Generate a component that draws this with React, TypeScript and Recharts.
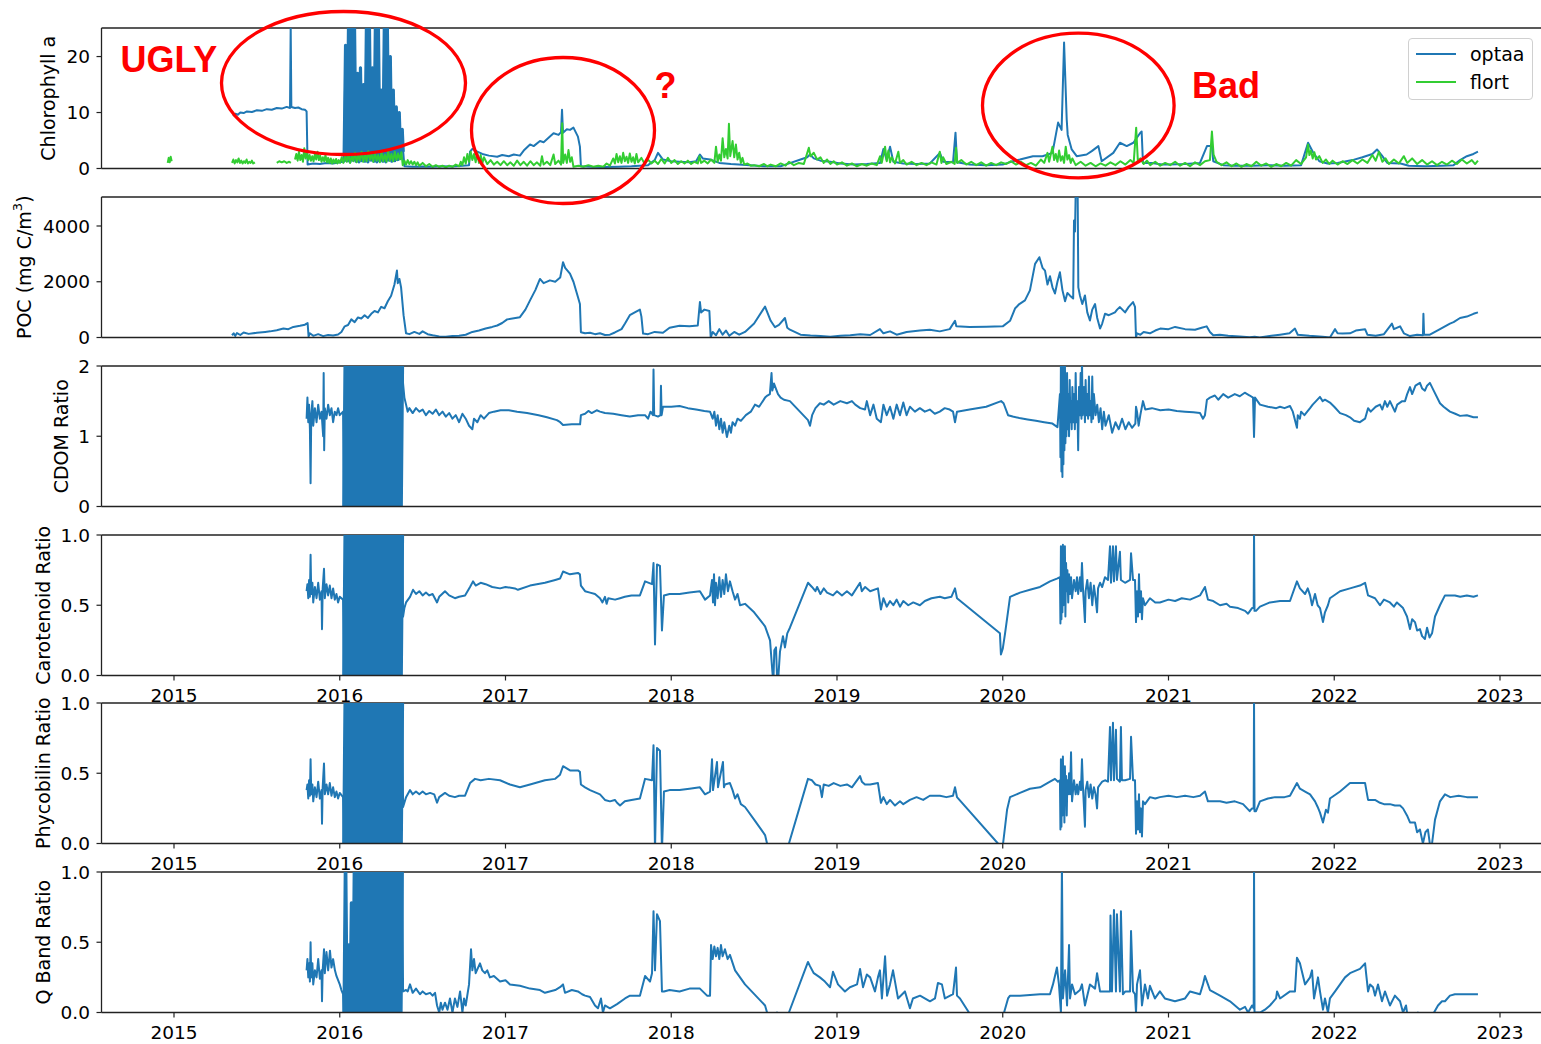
import React from "react";
import { LineChart, Line, XAxis, YAxis, Legend, ReferenceLine } from "recharts";

type Pt = [number, number | null];

const BLUE = "#1f77b4";
const GREEN = "#32cd32";
const RED = "#ff0000";
const FONT = "'DejaVu Sans', sans-serif";

// axis ticks
const yearTicks = [2015, 2016, 2017, 2018, 2019, 2020, 2021, 2022, 2023];
const chlTicks = [0, 10, 20];
const pocTicks = [0, 2000, 4000];
const cdomTicks = [0, 1, 2];
const ratioTicks = [0, 0.5, 1];
const legendOrder = ["optaa", "flort"];

// ---- Chlorophyll a ----
const chlBlock: Pt[] = [
  [2016.026, 1.2], [2016.035, 22], [2016.044, 1.4], [2016.053, 26], [2016.062, 1.2], [2016.071, 26],
  [2016.08, 1.5], [2016.089, 26], [2016.098, 1.3], [2016.107, 17], [2016.116, 1.2], [2016.125, 18],
  [2016.134, 1.4], [2016.143, 15], [2016.152, 1.3], [2016.161, 26], [2016.17, 1.2], [2016.179, 26],
  [2016.188, 1.5], [2016.197, 18], [2016.206, 1.3], [2016.215, 26], [2016.224, 1.2], [2016.233, 26],
  [2016.242, 1.4], [2016.251, 14], [2016.26, 1.3], [2016.269, 26], [2016.278, 1.2], [2016.287, 26],
  [2016.296, 1.5], [2016.305, 20], [2016.314, 1.3], [2016.323, 14], [2016.332, 1.4], [2016.341, 11],
  [2016.35, 1.6], [2016.359, 10], [2016.368, 1.8], [2016.377, 7], [2016.383, 3],
];

const chlOptaa: Pt[] = [
  [2015.356, 9.4], [2015.37, 9.8], [2015.385, 9.6], [2015.4, 10.0], [2015.42, 9.9], [2015.44, 10.2],
  [2015.47, 10.1], [2015.5, 10.4], [2015.53, 10.3], [2015.56, 10.6], [2015.59, 10.5], [2015.62, 10.8],
  [2015.65, 10.7], [2015.68, 11.0], [2015.7, 10.8], [2015.704, 25.5], [2015.708, 11.0], [2015.73, 10.8],
  [2015.75, 10.9], [2015.77, 10.6], [2015.79, 10.5], [2015.8, 10.2], [2015.806, 0.7],
  [2015.84, 0.9], [2015.88, 0.8], [2015.92, 1.0], [2015.96, 0.9], [2016.0, 1.1], [2016.02, 1.2],
  ...chlBlock,
  [2016.39, 0.4], [2016.44, 0.3], [2016.5, 0.35], [2016.56, 0.3], [2016.62, 0.4], [2016.68, 0.35],
  [2016.74, 0.5], [2016.78, 0.6], [2016.786, 3.0], [2016.8, 3.5], [2016.83, 3.0], [2016.86, 2.6],
  [2016.9, 2.3], [2016.95, 2.1], [2016.98, 2.4], [2017.02, 2.2], [2017.05, 2.5], [2017.087, 2.3],
  [2017.11, 3.2], [2017.148, 4.3], [2017.17, 4.0], [2017.208, 4.9], [2017.23, 4.7], [2017.268, 5.7],
  [2017.29, 6.3], [2017.32, 6.0], [2017.335, 6.5], [2017.341, 10.5], [2017.347, 6.4], [2017.37, 7.0],
  [2017.389, 6.9], [2017.41, 7.3], [2017.437, 5.7], [2017.449, 3.9], [2017.455, 0.4],
  [2017.52, 0.3], [2017.6, 0.25], [2017.68, 0.3], [2017.76, 0.4], [2017.86, 0.6], [2017.9, 1.5],
  [2017.92, 2.8], [2017.95, 1.6], [2018.0, 1.3], [2018.05, 1.2], [2018.11, 1.1], [2018.15, 1.3],
  [2018.173, 2.5], [2018.19, 1.8], [2018.234, 1.6], [2018.29, 1.0], [2018.36, 0.8], [2018.475, 0.6],
  [2018.56, 0.4], [2018.66, 0.4], [2018.72, 1.0], [2018.78, 1.6], [2018.82, 2.0], [2018.837, 2.5],
  [2018.86, 1.8], [2018.9, 1.4], [2018.96, 1.2], [2019.02, 0.9], [2019.1, 0.7], [2019.18, 0.8],
  [2019.26, 1.0], [2019.28, 3.5], [2019.3, 1.5], [2019.32, 3.9], [2019.34, 1.2], [2019.4, 0.9],
  [2019.48, 0.8], [2019.56, 0.9], [2019.621, 2.8], [2019.64, 1.2], [2019.7, 1.1], [2019.715, 6.4],
  [2019.724, 1.1], [2019.8, 0.7], [2019.9, 0.6], [2020.0, 0.7], [2020.06, 1.3], [2020.104, 1.6],
  [2020.182, 2.2], [2020.24, 2.2], [2020.3, 2.8], [2020.334, 8.2], [2020.355, 6.9], [2020.37, 22.5],
  [2020.386, 8.7], [2020.392, 6.0], [2020.416, 3.4], [2020.446, 2.2], [2020.506, 2.5], [2020.537, 3.1],
  [2020.577, 4.0], [2020.597, 1.3], [2020.667, 2.8], [2020.707, 4.6], [2020.748, 4.0], [2020.788, 4.6],
  [2020.828, 6.3], [2020.838, 6.6], [2020.846, 1.0], [2020.9, 1.0], [2020.96, 0.7], [2021.0, 0.7],
  [2021.1, 0.8], [2021.19, 1.0], [2021.232, 4.0], [2021.262, 4.0], [2021.27, 1.3], [2021.33, 0.6],
  [2021.4, 0.5], [2021.5, 0.5], [2021.6, 0.6], [2021.7, 0.5], [2021.8, 0.6], [2021.842, 4.6],
  [2021.872, 2.9], [2021.91, 1.3], [2021.96, 0.9], [2022.02, 1.0], [2022.11, 1.5], [2022.17, 2.0],
  [2022.23, 2.6], [2022.258, 3.4], [2022.288, 2.3], [2022.32, 1.0], [2022.4, 0.9], [2022.45, 0.5],
  [2022.55, 0.4], [2022.65, 0.5], [2022.72, 0.6], [2022.759, 1.5], [2022.8, 2.2], [2022.84, 2.6],
  [2022.867, 3.0],
];

const chlFlort: Pt[] = [
  [2014.962, 1.0], [2014.968, 1.9], [2014.974, 1.1], [2014.98, 2.1], [2014.986, 1.3], [2014.99, null],
  [2015.35, 1.0], [2015.358, 1.6], [2015.366, 0.9], [2015.374, 1.5], [2015.382, 1.1], [2015.39, 1.8],
  [2015.398, 1.0], [2015.406, 1.4], [2015.414, 0.9], [2015.422, 1.3], [2015.43, 1.0], [2015.438, 1.6],
  [2015.446, 0.9], [2015.454, 1.2], [2015.462, 1.0], [2015.47, 1.4], [2015.478, 0.9], [2015.488, 1.1],
  [2015.49, null],
  [2015.62, 1.0], [2015.635, 1.3], [2015.65, 1.1], [2015.665, 1.3], [2015.68, 1.0], [2015.695, 1.2],
  [2015.705, 1.0], [2015.71, null],
  [2015.73, 1.6], [2015.738, 2.6], [2015.746, 1.4], [2015.754, 3.0], [2015.762, 1.5], [2015.77, 2.4],
  [2015.778, 1.2], [2015.786, 3.6], [2015.794, 1.8], [2015.802, 2.8], [2015.81, 1.5], [2015.818, 2.4],
  [2015.826, 1.4], [2015.834, 2.2], [2015.842, 1.3], [2015.85, 2.6], [2015.858, 1.6], [2015.866, 3.0],
  [2015.874, 1.5], [2015.882, 2.3], [2015.89, 1.2], [2015.898, 2.0], [2015.906, 1.3], [2015.914, 2.4],
  [2015.922, 1.1], [2015.93, 1.9], [2015.938, 1.0], [2015.946, 1.8], [2015.954, 0.9], [2015.962, 1.6],
  [2015.97, 1.0], [2015.978, 1.7], [2015.986, 0.9], [2015.994, 1.5], [2016.002, 1.0], [2016.012, 2.0],
  [2016.022, 1.0], [2016.032, 2.3], [2016.042, 1.2], [2016.052, 2.6], [2016.062, 1.0], [2016.072, 2.2],
  [2016.082, 1.3], [2016.092, 2.8], [2016.102, 1.1], [2016.112, 2.4], [2016.122, 1.4], [2016.132, 3.0],
  [2016.142, 1.2], [2016.152, 2.5], [2016.162, 1.3], [2016.172, 3.1], [2016.182, 1.5], [2016.192, 2.6],
  [2016.202, 1.2], [2016.212, 2.8], [2016.222, 1.4], [2016.232, 2.4], [2016.242, 1.1], [2016.252, 2.9],
  [2016.262, 1.3], [2016.272, 2.5], [2016.282, 1.2], [2016.292, 3.2], [2016.302, 1.4], [2016.312, 2.6],
  [2016.322, 1.3], [2016.332, 3.0], [2016.342, 1.5], [2016.352, 2.7], [2016.362, 1.6], [2016.372, 2.9],
  [2016.38, 0.6], [2016.39, 1.4], [2016.4, 0.7], [2016.41, 1.5], [2016.42, 0.8], [2016.43, 1.3],
  [2016.44, 0.7], [2016.45, 1.2], [2016.46, 0.6], [2016.47, 1.1], [2016.48, 0.5], [2016.5, 1.0],
  [2016.52, 0.4], [2016.54, 0.8], [2016.56, 0.3], [2016.58, 0.6], [2016.6, 0.3], [2016.62, 0.5],
  [2016.64, 0.2], [2016.66, 0.5], [2016.68, 0.3], [2016.7, 0.7], [2016.72, 0.4], [2016.73, 1.2],
  [2016.74, 0.6], [2016.75, 2.0], [2016.76, 0.9], [2016.77, 2.6], [2016.78, 1.2], [2016.79, 3.0],
  [2016.8, 1.5], [2016.81, 2.6], [2016.82, 1.1], [2016.83, 2.8], [2016.84, 1.0], [2016.85, 2.4],
  [2016.86, 0.9], [2016.87, 2.0], [2016.89, 0.8], [2016.91, 1.5], [2016.93, 0.7], [2016.95, 1.2],
  [2016.97, 0.6], [2016.99, 1.3], [2017.01, 0.6], [2017.03, 1.1], [2017.05, 0.5], [2017.07, 1.4],
  [2017.09, 0.6], [2017.11, 1.2], [2017.13, 0.5], [2017.15, 1.3], [2017.17, 0.6], [2017.19, 1.1],
  [2017.21, 0.5], [2017.22, 2.2], [2017.23, 0.7], [2017.25, 1.2], [2017.27, 0.6], [2017.29, 2.5],
  [2017.3, 0.8], [2017.32, 1.4], [2017.335, 0.7], [2017.342, 8.1], [2017.348, 1.0], [2017.36, 2.5],
  [2017.37, 1.0], [2017.38, 3.3], [2017.39, 1.2], [2017.4, 2.0], [2017.41, 0.3], [2017.44, 0.5],
  [2017.47, 0.3], [2017.5, 0.6], [2017.53, 0.3], [2017.56, 0.5], [2017.59, 0.3], [2017.61, 0.9],
  [2017.63, 0.5], [2017.65, 1.8], [2017.66, 0.9], [2017.67, 2.6], [2017.68, 1.1], [2017.69, 2.2],
  [2017.7, 1.0], [2017.71, 2.8], [2017.72, 1.3], [2017.73, 2.1], [2017.74, 1.0], [2017.75, 2.7],
  [2017.76, 1.2], [2017.77, 2.0], [2017.78, 0.9], [2017.79, 2.6], [2017.8, 1.1], [2017.82, 1.9],
  [2017.84, 0.8], [2017.86, 1.6], [2017.88, 0.9], [2017.9, 1.4], [2017.92, 0.8], [2017.94, 1.7],
  [2017.96, 0.9], [2017.98, 1.9], [2018.0, 1.0], [2018.02, 1.5], [2018.04, 0.8], [2018.06, 1.3],
  [2018.08, 0.9], [2018.1, 1.4], [2018.12, 0.8], [2018.14, 1.2], [2018.16, 0.9], [2018.17, 2.2],
  [2018.18, 1.0], [2018.2, 1.4], [2018.22, 0.9], [2018.24, 1.6], [2018.26, 1.0], [2018.27, 3.9],
  [2018.28, 1.2], [2018.29, 2.5], [2018.3, 1.4], [2018.31, 5.4], [2018.32, 2.0], [2018.33, 3.5],
  [2018.34, 1.8], [2018.348, 8.0], [2018.356, 2.2], [2018.37, 4.9], [2018.38, 2.0], [2018.39, 4.3],
  [2018.4, 1.6], [2018.41, 2.8], [2018.42, 1.0], [2018.43, 1.9], [2018.44, 0.7], [2018.46, 0.9],
  [2018.48, 0.5], [2018.5, 0.6], [2018.53, 0.4], [2018.56, 0.8], [2018.58, 0.4], [2018.6, 0.7],
  [2018.63, 0.4], [2018.66, 0.9], [2018.69, 0.5], [2018.71, 1.2], [2018.74, 0.6], [2018.77, 1.0],
  [2018.8, 0.8], [2018.83, 3.7], [2018.84, 2.2], [2018.86, 2.8], [2018.88, 1.6], [2018.9, 2.0],
  [2018.92, 1.0], [2018.94, 1.6], [2018.96, 0.8], [2018.98, 1.3], [2019.0, 0.7], [2019.03, 1.1],
  [2019.06, 0.5], [2019.09, 0.9], [2019.12, 0.4], [2019.15, 0.8], [2019.18, 0.5], [2019.21, 0.9],
  [2019.24, 0.6], [2019.26, 2.2], [2019.27, 1.0], [2019.29, 3.9], [2019.3, 1.3], [2019.31, 3.2],
  [2019.32, 1.1], [2019.33, 2.0], [2019.35, 0.9], [2019.37, 3.0], [2019.38, 1.0], [2019.4, 1.5],
  [2019.42, 0.7], [2019.45, 1.2], [2019.48, 0.6], [2019.51, 1.0], [2019.54, 0.6], [2019.57, 1.1],
  [2019.6, 0.7], [2019.62, 3.0], [2019.63, 1.0], [2019.64, 2.0], [2019.66, 0.8], [2019.69, 1.2],
  [2019.71, 0.8], [2019.718, 3.7], [2019.726, 1.0], [2019.75, 1.5], [2019.78, 0.7], [2019.81, 1.2],
  [2019.84, 0.6], [2019.87, 1.1], [2019.9, 0.5], [2019.93, 1.0], [2019.96, 0.6], [2019.99, 1.1],
  [2020.02, 0.8], [2020.05, 1.3], [2020.08, 0.7], [2020.11, 1.2], [2020.14, 0.6], [2020.17, 1.0],
  [2020.2, 0.5], [2020.23, 1.6], [2020.25, 1.0], [2020.27, 2.8], [2020.28, 1.2], [2020.3, 3.9],
  [2020.31, 1.5], [2020.32, 2.6], [2020.33, 1.2], [2020.34, 3.2], [2020.35, 1.4], [2020.36, 2.2],
  [2020.37, 1.0], [2020.38, 3.9], [2020.39, 1.6], [2020.4, 2.4], [2020.41, 1.0], [2020.42, 1.8],
  [2020.44, 0.6], [2020.47, 1.2], [2020.5, 0.5], [2020.53, 1.0], [2020.56, 0.4], [2020.59, 0.9],
  [2020.62, 0.5], [2020.65, 1.1], [2020.68, 0.6], [2020.71, 1.3], [2020.74, 0.7], [2020.77, 1.5],
  [2020.79, 1.0], [2020.805, 7.3], [2020.815, 1.4], [2020.83, 1.8], [2020.85, 0.8], [2020.87, 1.4],
  [2020.89, 0.6], [2020.92, 1.2], [2020.95, 0.5], [2020.98, 1.0], [2021.01, 0.6], [2021.04, 1.2],
  [2021.07, 0.5], [2021.1, 1.0], [2021.13, 0.4], [2021.16, 1.1], [2021.19, 0.6], [2021.22, 1.3],
  [2021.25, 1.5], [2021.262, 6.6], [2021.272, 2.5], [2021.29, 1.2], [2021.32, 0.6], [2021.35, 1.1],
  [2021.38, 0.4], [2021.41, 0.9], [2021.44, 0.3], [2021.47, 0.8], [2021.5, 0.4], [2021.53, 1.2],
  [2021.56, 0.5], [2021.59, 0.9], [2021.62, 0.3], [2021.65, 0.8], [2021.68, 0.4], [2021.71, 1.0],
  [2021.74, 0.5], [2021.77, 1.5], [2021.8, 0.8], [2021.83, 2.0], [2021.842, 4.3], [2021.85, 2.4],
  [2021.86, 3.2], [2021.87, 1.8], [2021.88, 2.9], [2021.89, 1.6], [2021.91, 2.2], [2021.93, 1.0],
  [2021.95, 1.6], [2021.97, 0.8], [2021.99, 1.4], [2022.02, 0.7], [2022.05, 1.3], [2022.08, 0.8],
  [2022.11, 1.5], [2022.14, 0.9], [2022.17, 1.6], [2022.2, 1.0], [2022.23, 2.4], [2022.25, 1.4],
  [2022.27, 3.0], [2022.29, 1.2], [2022.31, 1.8], [2022.33, 0.8], [2022.36, 1.6], [2022.39, 0.9],
  [2022.42, 2.2], [2022.44, 1.0], [2022.47, 1.8], [2022.5, 0.8], [2022.53, 1.5], [2022.56, 0.7],
  [2022.59, 1.3], [2022.62, 0.6], [2022.65, 1.2], [2022.68, 0.7], [2022.71, 1.4], [2022.74, 0.8],
  [2022.77, 1.6], [2022.8, 0.9], [2022.83, 1.5], [2022.85, 0.8], [2022.867, 1.4],
];

// ---- POC ----
const poc: Pt[] = [
  [2015.35, 80], [2015.36, 150], [2015.37, 60], [2015.38, 160], [2015.4, 90], [2015.42, 180],
  [2015.45, 130], [2015.5, 170], [2015.55, 200], [2015.58, 220], [2015.62, 260], [2015.66, 320],
  [2015.69, 300], [2015.72, 380], [2015.76, 420], [2015.79, 460], [2015.8, 500], [2015.806, 520],
  [2015.812, 40], [2015.82, 150], [2015.84, 60], [2015.87, 120], [2015.9, 50], [2015.93, 90],
  [2015.96, 70], [2015.99, 110], [2016.01, 200], [2016.03, 400], [2016.05, 450], [2016.07, 650],
  [2016.09, 550], [2016.11, 720], [2016.13, 680], [2016.15, 800], [2016.17, 700], [2016.19, 850],
  [2016.21, 950], [2016.23, 900], [2016.25, 1100], [2016.27, 1050], [2016.29, 1300], [2016.31, 1500],
  [2016.33, 1900], [2016.345, 2400], [2016.35, 1950], [2016.36, 2100], [2016.37, 1800], [2016.385, 800],
  [2016.4, 150], [2016.42, 120], [2016.45, 200], [2016.48, 130], [2016.5, 220], [2016.53, 120],
  [2016.56, 80], [2016.6, 40], [2016.64, 30], [2016.68, 50], [2016.72, 60], [2016.76, 100],
  [2016.8, 200], [2016.84, 250], [2016.88, 320], [2016.92, 380], [2016.95, 430], [2016.98, 520],
  [2017.01, 650], [2017.06, 700], [2017.087, 730], [2017.12, 1000], [2017.148, 1330], [2017.18, 1700],
  [2017.208, 2100], [2017.23, 1950], [2017.268, 2050], [2017.3, 2000], [2017.33, 2150], [2017.347, 2700],
  [2017.36, 2500], [2017.389, 2290], [2017.41, 2000], [2017.437, 1450], [2017.449, 1200], [2017.455, 190],
  [2017.48, 150], [2017.51, 170], [2017.54, 120], [2017.57, 150], [2017.6, 90], [2017.63, 100],
  [2017.66, 180], [2017.7, 300], [2017.721, 500], [2017.75, 800], [2017.78, 900], [2017.811, 1000],
  [2017.82, 750], [2017.83, 140], [2017.86, 120], [2017.9, 200], [2017.95, 170], [2017.99, 350],
  [2018.05, 420], [2018.11, 400], [2018.16, 430], [2018.173, 1270], [2018.18, 900], [2018.2, 1000],
  [2018.23, 950], [2018.238, 0], [2018.25, 200], [2018.27, 80], [2018.29, 300], [2018.31, 100],
  [2018.33, 250], [2018.35, 60], [2018.38, 200], [2018.41, 100], [2018.445, 200], [2018.5, 500],
  [2018.566, 1110], [2018.6, 600], [2018.626, 370], [2018.65, 450], [2018.686, 700], [2018.7, 350],
  [2018.716, 280], [2018.78, 100], [2018.84, 70], [2018.9, 50], [2018.96, 30], [2019.02, 60],
  [2019.08, 80], [2019.14, 120], [2019.2, 90], [2019.259, 300], [2019.28, 150], [2019.32, 220],
  [2019.36, 100], [2019.42, 200], [2019.5, 250], [2019.56, 280], [2019.62, 220], [2019.68, 300],
  [2019.712, 600], [2019.72, 400], [2019.8, 380], [2019.9, 390], [2020.0, 400], [2020.044, 600],
  [2020.074, 1040], [2020.1, 1200], [2020.134, 1330], [2020.164, 1690], [2020.195, 2640], [2020.221, 2880],
  [2020.24, 2500], [2020.255, 2400], [2020.27, 1900], [2020.285, 2200], [2020.3, 1800], [2020.315, 1580],
  [2020.33, 2000], [2020.345, 2340], [2020.36, 1700], [2020.376, 1300], [2020.39, 1600], [2020.406, 1500],
  [2020.425, 1400], [2020.43, 4200], [2020.436, 3800], [2020.44, 5200], [2020.452, 5200], [2020.456, 1800],
  [2020.466, 1500], [2020.48, 1200], [2020.496, 1510], [2020.51, 900], [2020.526, 610], [2020.54, 1000],
  [2020.557, 1200], [2020.57, 700], [2020.587, 320], [2020.6, 500], [2020.617, 850], [2020.64, 800],
  [2020.677, 900], [2020.69, 1000], [2020.707, 1090], [2020.738, 900], [2020.76, 1100], [2020.786, 1270],
  [2020.798, 1100], [2020.804, 0], [2020.81, 150], [2020.83, 100], [2020.85, 200], [2020.888, 150],
  [2020.92, 250], [2020.95, 320], [2021.0, 300], [2021.04, 380], [2021.1, 300], [2021.16, 280],
  [2021.2, 350], [2021.23, 400], [2021.25, 200], [2021.27, 80], [2021.31, 100], [2021.36, 60],
  [2021.43, 40], [2021.49, 10], [2021.52, 30], [2021.55, 0], [2021.62, 60], [2021.673, 100],
  [2021.73, 150], [2021.763, 320], [2021.78, 100], [2021.85, 60], [2021.93, 30], [2021.974, 0],
  [2022.005, 300], [2022.02, 150], [2022.05, 140], [2022.095, 150], [2022.13, 250], [2022.186, 300],
  [2022.2, 100], [2022.25, 60], [2022.3, 120], [2022.348, 500], [2022.36, 300], [2022.397, 400],
  [2022.42, 150], [2022.457, 50], [2022.5, 100], [2022.535, 80], [2022.538, 850], [2022.542, 100],
  [2022.577, 100], [2022.638, 300], [2022.698, 500], [2022.72, 550], [2022.759, 700], [2022.8, 750],
  [2022.84, 850], [2022.867, 900],
];

// ---- solid bursts in the ratio panels (2016) ----
const cdomBlock: Pt[] = [
  [2016.026, -0.2], [2016.035, 2.2], [2016.044, -0.2], [2016.053, 2.2], [2016.062, -0.2], [2016.071, 2.2],
  [2016.08, -0.2], [2016.089, 2.2], [2016.098, -0.2], [2016.107, 2.2], [2016.116, -0.2], [2016.125, 2.2],
  [2016.134, -0.2], [2016.143, 2.2], [2016.152, -0.2], [2016.161, 2.2], [2016.17, -0.2], [2016.179, 2.2],
  [2016.188, -0.2], [2016.197, 2.2], [2016.206, -0.2], [2016.215, 2.2], [2016.224, -0.2], [2016.233, 2.2],
  [2016.242, -0.2], [2016.251, 2.2], [2016.26, -0.2], [2016.269, 2.2], [2016.278, -0.2], [2016.287, 2.2],
  [2016.296, -0.2], [2016.305, 2.2], [2016.314, -0.2], [2016.323, 2.2], [2016.332, -0.2], [2016.341, 2.2],
  [2016.35, -0.2], [2016.359, 2.2], [2016.368, -0.2], [2016.377, 2.2],
];

const ratioBlock: Pt[] = [
  [2016.026, -0.1], [2016.035, 1.1], [2016.044, -0.1], [2016.053, 1.1], [2016.062, -0.1], [2016.071, 1.1],
  [2016.08, -0.1], [2016.089, 1.1], [2016.098, -0.1], [2016.107, 1.1], [2016.116, -0.1], [2016.125, 1.1],
  [2016.134, -0.1], [2016.143, 1.1], [2016.152, -0.1], [2016.161, 1.1], [2016.17, -0.1], [2016.179, 1.1],
  [2016.188, -0.1], [2016.197, 1.1], [2016.206, -0.1], [2016.215, 1.1], [2016.224, -0.1], [2016.233, 1.1],
  [2016.242, -0.1], [2016.251, 1.1], [2016.26, -0.1], [2016.269, 1.1], [2016.278, -0.1], [2016.287, 1.1],
  [2016.296, -0.1], [2016.305, 1.1], [2016.314, -0.1], [2016.323, 1.1], [2016.332, -0.1], [2016.341, 1.1],
  [2016.35, -0.1], [2016.359, 1.1], [2016.368, -0.1], [2016.377, 1.1],
];

const qBlock: Pt[] = [
  [2016.026, -0.1], [2016.035, 1.1], [2016.044, -0.1], [2016.053, 0.48], [2016.062, -0.1], [2016.071, 0.78],
  [2016.08, -0.1], [2016.089, 1.1], [2016.098, -0.1], [2016.107, 1.1], [2016.116, -0.1], [2016.125, 1.1],
  [2016.134, -0.1], [2016.143, 1.1], [2016.152, -0.1], [2016.161, 1.1], [2016.17, -0.1], [2016.179, 1.1],
  [2016.188, -0.1], [2016.197, 1.1], [2016.206, -0.1], [2016.215, 1.1], [2016.224, -0.1], [2016.233, 1.1],
  [2016.242, -0.1], [2016.251, 1.1], [2016.26, -0.1], [2016.269, 1.1], [2016.278, -0.1], [2016.287, 1.1],
  [2016.296, -0.1], [2016.305, 1.1], [2016.314, -0.1], [2016.323, 1.1], [2016.332, -0.1], [2016.341, 1.1],
  [2016.35, -0.1], [2016.359, 1.1], [2016.368, -0.1], [2016.377, 1.1],
];

// ---- CDOM ratio ----
const cdom: Pt[] = [
  [2015.8, 1.25], [2015.805, 1.55], [2015.81, 1.2], [2015.815, 1.45], [2015.82, 1.1], [2015.824, 0.33],
  [2015.828, 1.3], [2015.835, 1.5], [2015.84, 1.15], [2015.85, 1.4], [2015.86, 1.2], [2015.87, 1.45],
  [2015.88, 1.25], [2015.89, 1.35], [2015.9, 1.0], [2015.903, 1.9], [2015.906, 0.8], [2015.91, 1.4],
  [2015.92, 1.25], [2015.93, 1.45], [2015.94, 1.3], [2015.95, 1.4], [2015.96, 1.2], [2015.97, 1.35],
  [2015.98, 1.3], [2015.99, 1.4], [2016.0, 1.3], [2016.02, 1.35],
  ...cdomBlock,
  [2016.382, 1.75], [2016.39, 1.55], [2016.4, 1.45], [2016.41, 1.35], [2016.42, 1.4], [2016.44, 1.33],
  [2016.46, 1.4], [2016.48, 1.35], [2016.5, 1.38], [2016.52, 1.3], [2016.54, 1.36], [2016.56, 1.32],
  [2016.58, 1.38], [2016.6, 1.3], [2016.62, 1.35], [2016.64, 1.28], [2016.66, 1.33], [2016.68, 1.25],
  [2016.7, 1.3], [2016.72, 1.2], [2016.74, 1.32], [2016.76, 1.25], [2016.78, 1.15], [2016.8, 1.1],
  [2016.81, 1.25], [2016.83, 1.2], [2016.85, 1.3], [2016.87, 1.25], [2016.9, 1.33], [2016.93, 1.35],
  [2016.97, 1.37], [2017.02, 1.37], [2017.07, 1.35], [2017.13, 1.33], [2017.2, 1.3], [2017.25, 1.27],
  [2017.31, 1.23], [2017.33, 1.2], [2017.347, 1.16], [2017.4, 1.17], [2017.45, 1.17], [2017.455, 1.3],
  [2017.48, 1.32], [2017.5, 1.36], [2017.52, 1.33], [2017.55, 1.37], [2017.57, 1.35], [2017.6, 1.33],
  [2017.65, 1.32], [2017.7, 1.3], [2017.75, 1.28], [2017.8, 1.3], [2017.842, 1.3], [2017.86, 1.25],
  [2017.875, 1.35], [2017.89, 1.3], [2017.893, 1.95], [2017.897, 1.3], [2017.92, 1.28], [2017.935, 1.3],
  [2017.938, 1.72], [2017.942, 1.3], [2017.95, 1.42], [2018.0, 1.42], [2018.05, 1.43], [2018.1, 1.4],
  [2018.15, 1.38], [2018.2, 1.36], [2018.234, 1.35], [2018.25, 1.25], [2018.26, 1.35], [2018.27, 1.15],
  [2018.28, 1.3], [2018.29, 1.1], [2018.3, 1.25], [2018.31, 1.05], [2018.32, 1.2], [2018.336, 0.99],
  [2018.35, 1.15], [2018.36, 1.05], [2018.37, 1.2], [2018.385, 1.15], [2018.4, 1.25], [2018.42, 1.22],
  [2018.45, 1.3], [2018.48, 1.35], [2018.505, 1.45], [2018.53, 1.42], [2018.566, 1.55], [2018.58, 1.58],
  [2018.595, 1.6], [2018.605, 1.9], [2018.61, 1.65], [2018.62, 1.75], [2018.644, 1.6], [2018.66, 1.55],
  [2018.68, 1.52], [2018.716, 1.5], [2018.825, 1.23], [2018.837, 1.15], [2018.85, 1.3], [2018.87, 1.4],
  [2018.897, 1.47], [2018.92, 1.45], [2018.95, 1.5], [2018.98, 1.45], [2019.02, 1.5], [2019.06, 1.47],
  [2019.09, 1.5], [2019.11, 1.45], [2019.14, 1.4], [2019.169, 1.38], [2019.18, 1.5], [2019.2, 1.3],
  [2019.22, 1.45], [2019.24, 1.25], [2019.265, 1.2], [2019.28, 1.45], [2019.3, 1.3], [2019.32, 1.42],
  [2019.34, 1.25], [2019.36, 1.45], [2019.38, 1.3], [2019.4, 1.48], [2019.42, 1.3], [2019.44, 1.42],
  [2019.47, 1.35], [2019.5, 1.4], [2019.53, 1.35], [2019.56, 1.38], [2019.59, 1.32], [2019.62, 1.35],
  [2019.65, 1.4], [2019.68, 1.38], [2019.7, 1.35], [2019.712, 1.2], [2019.724, 1.35], [2019.8, 1.38],
  [2019.9, 1.42], [2019.99, 1.5], [2020.005, 1.47], [2020.032, 1.3], [2020.06, 1.28], [2020.1, 1.26],
  [2020.15, 1.24], [2020.2, 1.22], [2020.25, 1.2], [2020.3, 1.18], [2020.33, 1.13], [2020.345, 1.6],
  [2020.348, 0.7], [2020.351, 2.1], [2020.354, 0.5], [2020.357, 1.9], [2020.36, 0.42], [2020.363, 2.1],
  [2020.366, 0.6], [2020.369, 1.8], [2020.372, 0.8], [2020.375, 2.1], [2020.378, 0.9], [2020.381, 1.7],
  [2020.384, 1.0], [2020.388, 1.9], [2020.392, 1.1], [2020.396, 1.6], [2020.4, 1.0], [2020.404, 1.8],
  [2020.408, 1.2], [2020.412, 1.5], [2020.416, 1.1], [2020.42, 1.7], [2020.425, 1.2], [2020.43, 1.6],
  [2020.435, 1.1], [2020.44, 1.9], [2020.445, 1.2], [2020.45, 1.5], [2020.455, 0.8], [2020.46, 1.7],
  [2020.465, 1.3], [2020.47, 1.9], [2020.475, 1.25], [2020.478, 2.1], [2020.482, 1.3], [2020.49, 1.7],
  [2020.496, 1.2], [2020.5, 1.8], [2020.505, 1.3], [2020.51, 1.6], [2020.515, 1.25], [2020.52, 1.85],
  [2020.525, 1.3], [2020.53, 1.5], [2020.535, 1.2], [2020.54, 1.85], [2020.545, 1.25], [2020.55, 1.6],
  [2020.56, 1.3], [2020.57, 1.45], [2020.58, 1.2], [2020.59, 1.4], [2020.6, 1.1], [2020.61, 1.35],
  [2020.62, 1.15], [2020.64, 1.3], [2020.66, 1.05], [2020.68, 1.2], [2020.7, 1.1], [2020.72, 1.25],
  [2020.74, 1.1], [2020.76, 1.2], [2020.78, 1.12], [2020.8, 1.18], [2020.804, 1.42], [2020.81, 1.35],
  [2020.82, 1.15], [2020.83, 1.3], [2020.846, 1.5], [2020.86, 1.38], [2020.9, 1.4], [2020.95, 1.37],
  [2021.0, 1.38], [2021.05, 1.36], [2021.1, 1.35], [2021.15, 1.34], [2021.19, 1.33], [2021.208, 1.25],
  [2021.22, 1.3], [2021.232, 1.52], [2021.25, 1.55], [2021.28, 1.58], [2021.3, 1.52], [2021.33, 1.6],
  [2021.36, 1.55], [2021.4, 1.6], [2021.43, 1.57], [2021.46, 1.62], [2021.49, 1.58], [2021.51, 1.55],
  [2021.516, 0.99], [2021.522, 1.55], [2021.552, 1.45], [2021.6, 1.42], [2021.65, 1.4], [2021.673, 1.42],
  [2021.7, 1.4], [2021.733, 1.43], [2021.75, 1.35], [2021.775, 1.12], [2021.78, 1.3], [2021.793, 1.25],
  [2021.8, 1.35], [2021.82, 1.3], [2021.854, 1.4], [2021.87, 1.45], [2021.89, 1.5], [2021.914, 1.56],
  [2021.93, 1.5], [2021.944, 1.52], [2021.974, 1.48], [2022.0, 1.42], [2022.035, 1.33], [2022.07, 1.3],
  [2022.095, 1.27], [2022.12, 1.22], [2022.155, 1.2], [2022.186, 1.25], [2022.204, 1.4], [2022.22, 1.35],
  [2022.25, 1.42], [2022.276, 1.45], [2022.29, 1.38], [2022.306, 1.5], [2022.32, 1.42], [2022.336, 1.5],
  [2022.366, 1.35], [2022.38, 1.45], [2022.41, 1.5], [2022.427, 1.5], [2022.44, 1.6], [2022.457, 1.7],
  [2022.47, 1.6], [2022.49, 1.72], [2022.517, 1.76], [2022.53, 1.68], [2022.547, 1.65], [2022.56, 1.72],
  [2022.577, 1.76], [2022.6, 1.65], [2022.638, 1.47], [2022.66, 1.42], [2022.698, 1.35], [2022.73, 1.32],
  [2022.759, 1.29], [2022.8, 1.3], [2022.84, 1.27], [2022.867, 1.27],
];

// ---- Carotenoid ratio ----
const carotenoid: Pt[] = [
  [2015.8, 0.6], [2015.805, 0.65], [2015.81, 0.55], [2015.815, 0.68], [2015.82, 0.56], [2015.824, 0.86],
  [2015.828, 0.58], [2015.835, 0.66], [2015.84, 0.52], [2015.85, 0.63], [2015.86, 0.55], [2015.87, 0.66],
  [2015.88, 0.54], [2015.89, 0.6], [2015.893, 0.33], [2015.897, 0.62], [2015.905, 0.76], [2015.91, 0.55],
  [2015.92, 0.65], [2015.93, 0.57], [2015.94, 0.64], [2015.95, 0.55], [2015.96, 0.62], [2015.97, 0.54],
  [2015.98, 0.58], [2015.99, 0.52], [2016.0, 0.56], [2016.02, 0.54],
  ...ratioBlock,
  [2016.382, 0.42], [2016.39, 0.48], [2016.4, 0.52], [2016.424, 0.56], [2016.442, 0.61], [2016.46, 0.58],
  [2016.48, 0.6], [2016.5, 0.57], [2016.52, 0.59], [2016.54, 0.57], [2016.56, 0.58], [2016.587, 0.52],
  [2016.6, 0.56], [2016.635, 0.6], [2016.66, 0.57], [2016.695, 0.55], [2016.72, 0.56], [2016.756, 0.57],
  [2016.786, 0.63], [2016.804, 0.67], [2016.82, 0.64], [2016.85, 0.66], [2016.88, 0.65], [2016.92, 0.63],
  [2016.967, 0.62], [2017.0, 0.63], [2017.057, 0.62], [2017.075, 0.61], [2017.148, 0.64], [2017.238, 0.66],
  [2017.3, 0.68], [2017.329, 0.69], [2017.347, 0.74], [2017.389, 0.72], [2017.437, 0.73], [2017.449, 0.72],
  [2017.455, 0.64], [2017.48, 0.6], [2017.51, 0.59], [2017.54, 0.58], [2017.57, 0.55], [2017.585, 0.52],
  [2017.6, 0.56], [2017.61, 0.51], [2017.62, 0.55], [2017.661, 0.54], [2017.691, 0.55], [2017.72, 0.56],
  [2017.76, 0.57], [2017.811, 0.57], [2017.842, 0.67], [2017.884, 0.65], [2017.893, 0.8], [2017.902, 0.22],
  [2017.914, 0.79], [2017.932, 0.78], [2017.944, 0.32], [2017.956, 0.57], [2017.99, 0.58], [2018.05, 0.58],
  [2018.11, 0.59], [2018.173, 0.6], [2018.204, 0.54], [2018.234, 0.57], [2018.246, 0.68], [2018.252, 0.52],
  [2018.258, 0.72], [2018.264, 0.5], [2018.27, 0.66], [2018.28, 0.55], [2018.29, 0.7], [2018.3, 0.56],
  [2018.31, 0.68], [2018.32, 0.58], [2018.33, 0.72], [2018.342, 0.6], [2018.354, 0.67], [2018.37, 0.6],
  [2018.385, 0.54], [2018.4, 0.58], [2018.415, 0.5], [2018.445, 0.51], [2018.5, 0.45], [2018.566, 0.35],
  [2018.596, 0.25], [2018.61, 0.03], [2018.616, -0.05], [2018.622, 0.18], [2018.632, 0.2], [2018.638, 0.0],
  [2018.644, -0.05], [2018.656, 0.17], [2018.674, 0.28], [2018.686, 0.2], [2018.7, 0.3], [2018.716, 0.34],
  [2018.825, 0.66], [2018.849, 0.63], [2018.87, 0.6], [2018.88, 0.63], [2018.9, 0.58], [2018.92, 0.62],
  [2018.94, 0.59], [2018.976, 0.57], [2019.0, 0.6], [2019.03, 0.57], [2019.06, 0.6], [2019.09, 0.57],
  [2019.139, 0.66], [2019.15, 0.6], [2019.17, 0.63], [2019.2, 0.6], [2019.247, 0.62], [2019.265, 0.47],
  [2019.28, 0.55], [2019.3, 0.49], [2019.32, 0.53], [2019.34, 0.5], [2019.36, 0.54], [2019.38, 0.49],
  [2019.4, 0.53], [2019.43, 0.5], [2019.46, 0.52], [2019.5, 0.5], [2019.53, 0.53], [2019.57, 0.55],
  [2019.621, 0.56], [2019.65, 0.55], [2019.69, 0.56], [2019.712, 0.62], [2019.724, 0.55], [2019.983, 0.3],
  [2019.989, 0.15], [2020.0, 0.19], [2020.014, 0.3], [2020.044, 0.56], [2020.104, 0.59], [2020.164, 0.61],
  [2020.225, 0.63], [2020.285, 0.67], [2020.327, 0.69], [2020.345, 0.7], [2020.348, 0.37], [2020.351, 0.92],
  [2020.354, 0.4], [2020.357, 0.88], [2020.36, 0.45], [2020.363, 0.93], [2020.366, 0.5], [2020.369, 0.85],
  [2020.372, 0.55], [2020.375, 0.92], [2020.378, 0.42], [2020.382, 0.8], [2020.386, 0.6], [2020.39, 0.75],
  [2020.395, 0.52], [2020.4, 0.72], [2020.406, 0.58], [2020.412, 0.7], [2020.418, 0.55], [2020.43, 0.68],
  [2020.44, 0.6], [2020.448, 0.7], [2020.455, 0.58], [2020.466, 0.7], [2020.472, 0.6], [2020.478, 0.8],
  [2020.484, 0.62], [2020.496, 0.38], [2020.5, 0.6], [2020.51, 0.68], [2020.52, 0.55], [2020.53, 0.66],
  [2020.54, 0.5], [2020.55, 0.64], [2020.56, 0.55], [2020.569, 0.45], [2020.575, 0.62], [2020.587, 0.66],
  [2020.6, 0.63], [2020.617, 0.7], [2020.635, 0.68], [2020.647, 0.92], [2020.653, 0.66], [2020.665, 0.92],
  [2020.671, 0.67], [2020.683, 0.92], [2020.689, 0.68], [2020.707, 0.88], [2020.713, 0.68], [2020.738, 0.66],
  [2020.768, 0.68], [2020.774, 0.87], [2020.786, 0.68], [2020.798, 0.68], [2020.804, 0.38], [2020.81, 0.6],
  [2020.816, 0.42], [2020.822, 0.72], [2020.828, 0.45], [2020.834, 0.6], [2020.84, 0.4], [2020.846, 0.55],
  [2020.858, 0.5], [2020.888, 0.55], [2020.92, 0.52], [2020.948, 0.52], [2021.0, 0.54], [2021.04, 0.53],
  [2021.08, 0.55], [2021.13, 0.54], [2021.19, 0.57], [2021.22, 0.63], [2021.238, 0.54], [2021.27, 0.53],
  [2021.311, 0.5], [2021.35, 0.51], [2021.371, 0.49], [2021.42, 0.48], [2021.462, 0.46], [2021.48, 0.44],
  [2021.492, 0.46], [2021.504, 0.48], [2021.514, 0.48], [2021.516, 1.02], [2021.519, 0.46], [2021.528, 0.46],
  [2021.552, 0.49], [2021.612, 0.52], [2021.673, 0.53], [2021.733, 0.53], [2021.775, 0.67], [2021.793, 0.62],
  [2021.824, 0.58], [2021.84, 0.62], [2021.854, 0.57], [2021.866, 0.5], [2021.884, 0.58], [2021.9, 0.5],
  [2021.914, 0.48], [2021.932, 0.38], [2021.944, 0.45], [2021.962, 0.5], [2021.974, 0.55], [2022.035, 0.6],
  [2022.095, 0.62], [2022.155, 0.64], [2022.186, 0.66], [2022.204, 0.57], [2022.246, 0.55], [2022.276, 0.5],
  [2022.3, 0.54], [2022.336, 0.52], [2022.36, 0.49], [2022.378, 0.52], [2022.397, 0.5], [2022.415, 0.48],
  [2022.439, 0.42], [2022.457, 0.33], [2022.47, 0.4], [2022.487, 0.38], [2022.5, 0.32], [2022.517, 0.33],
  [2022.53, 0.28], [2022.547, 0.26], [2022.56, 0.34], [2022.575, 0.27], [2022.59, 0.3], [2022.608, 0.42],
  [2022.638, 0.5], [2022.668, 0.57], [2022.7, 0.57], [2022.728, 0.57], [2022.76, 0.56], [2022.8, 0.57],
  [2022.84, 0.56], [2022.867, 0.57],
];

// ---- Phycobilin ratio ----
const phycobilin: Pt[] = [
  [2015.8, 0.38], [2015.805, 0.42], [2015.81, 0.32], [2015.815, 0.45], [2015.82, 0.34], [2015.824, 0.6],
  [2015.828, 0.35], [2015.835, 0.42], [2015.84, 0.3], [2015.85, 0.4], [2015.86, 0.33], [2015.87, 0.44],
  [2015.88, 0.32], [2015.89, 0.38], [2015.893, 0.14], [2015.897, 0.4], [2015.905, 0.57], [2015.91, 0.35],
  [2015.92, 0.42], [2015.93, 0.35], [2015.94, 0.43], [2015.95, 0.34], [2015.96, 0.4], [2015.97, 0.33],
  [2015.98, 0.37], [2015.99, 0.32], [2016.0, 0.36], [2016.02, 0.33],
  ...ratioBlock,
  [2016.382, 0.26], [2016.4, 0.33], [2016.424, 0.38], [2016.44, 0.35], [2016.46, 0.37], [2016.48, 0.35],
  [2016.5, 0.37], [2016.52, 0.35], [2016.545, 0.36], [2016.57, 0.35], [2016.587, 0.29], [2016.6, 0.33],
  [2016.635, 0.36], [2016.66, 0.34], [2016.695, 0.33], [2016.72, 0.34], [2016.756, 0.34], [2016.786, 0.43],
  [2016.816, 0.46], [2016.85, 0.45], [2016.9, 0.46], [2016.967, 0.45], [2017.027, 0.42], [2017.087, 0.4],
  [2017.148, 0.42], [2017.238, 0.45], [2017.3, 0.46], [2017.329, 0.49], [2017.347, 0.55], [2017.389, 0.52],
  [2017.437, 0.52], [2017.449, 0.51], [2017.455, 0.42], [2017.48, 0.4], [2017.51, 0.38], [2017.57, 0.35],
  [2017.6, 0.31], [2017.63, 0.3], [2017.66, 0.31], [2017.673, 0.29], [2017.691, 0.27], [2017.72, 0.3],
  [2017.76, 0.31], [2017.811, 0.32], [2017.842, 0.46], [2017.884, 0.45], [2017.893, 0.7], [2017.902, -0.05],
  [2017.914, 0.68], [2017.932, 0.66], [2017.944, -0.05], [2017.956, 0.37], [2017.99, 0.38], [2018.05, 0.38],
  [2018.11, 0.39], [2018.173, 0.4], [2018.204, 0.35], [2018.234, 0.37], [2018.246, 0.6], [2018.252, 0.38],
  [2018.276, 0.58], [2018.282, 0.4], [2018.312, 0.58], [2018.318, 0.4], [2018.324, 0.42], [2018.354, 0.43],
  [2018.37, 0.38], [2018.385, 0.32], [2018.4, 0.35], [2018.42, 0.28], [2018.445, 0.26], [2018.5, 0.17],
  [2018.566, 0.06], [2018.578, 0.0], [2018.62, -0.15], [2018.68, -0.15], [2018.71, 0.0], [2018.825, 0.46],
  [2018.849, 0.45], [2018.87, 0.42], [2018.897, 0.41], [2018.909, 0.33], [2018.92, 0.42], [2018.95, 0.41],
  [2018.98, 0.43], [2019.02, 0.41], [2019.06, 0.42], [2019.09, 0.4], [2019.139, 0.48], [2019.15, 0.44],
  [2019.169, 0.42], [2019.2, 0.42], [2019.247, 0.43], [2019.265, 0.29], [2019.28, 0.33], [2019.3, 0.28],
  [2019.32, 0.31], [2019.35, 0.27], [2019.38, 0.3], [2019.4, 0.28], [2019.44, 0.31], [2019.48, 0.33],
  [2019.52, 0.31], [2019.56, 0.34], [2019.621, 0.34], [2019.66, 0.33], [2019.7, 0.34], [2019.712, 0.4],
  [2019.724, 0.33], [2019.971, 0.0], [2019.99, -0.05], [2020.002, 0.0], [2020.026, 0.24], [2020.044, 0.33],
  [2020.104, 0.36], [2020.164, 0.39], [2020.225, 0.4], [2020.285, 0.44], [2020.315, 0.46], [2020.333, 0.44],
  [2020.345, 0.45], [2020.348, 0.1], [2020.351, 0.6], [2020.354, 0.12], [2020.357, 0.55], [2020.36, 0.2],
  [2020.363, 0.62], [2020.366, 0.25], [2020.369, 0.5], [2020.372, 0.15], [2020.375, 0.55], [2020.378, 0.3],
  [2020.382, 0.48], [2020.386, 0.2], [2020.39, 0.45], [2020.395, 0.35], [2020.4, 0.5], [2020.406, 0.35],
  [2020.412, 0.65], [2020.418, 0.3], [2020.43, 0.45], [2020.44, 0.35], [2020.448, 0.42], [2020.455, 0.35],
  [2020.466, 0.44], [2020.472, 0.38], [2020.478, 0.6], [2020.484, 0.4], [2020.496, 0.12], [2020.5, 0.38],
  [2020.51, 0.44], [2020.52, 0.33], [2020.53, 0.42], [2020.54, 0.32], [2020.55, 0.4], [2020.56, 0.35],
  [2020.569, 0.25], [2020.575, 0.4], [2020.587, 0.42], [2020.6, 0.44], [2020.617, 0.45], [2020.635, 0.44],
  [2020.647, 0.83], [2020.653, 0.45], [2020.665, 0.86], [2020.671, 0.45], [2020.683, 0.81], [2020.689, 0.46],
  [2020.707, 0.44], [2020.713, 0.83], [2020.719, 0.45], [2020.738, 0.45], [2020.768, 0.46], [2020.774, 0.76],
  [2020.786, 0.45], [2020.798, 0.45], [2020.804, 0.07], [2020.81, 0.3], [2020.816, 0.1], [2020.822, 0.35],
  [2020.828, 0.08], [2020.834, 0.25], [2020.84, 0.05], [2020.846, 0.3], [2020.858, 0.28], [2020.888, 0.33],
  [2020.92, 0.32], [2020.948, 0.33], [2021.0, 0.34], [2021.05, 0.33], [2021.1, 0.34], [2021.15, 0.33],
  [2021.19, 0.34], [2021.22, 0.37], [2021.238, 0.3], [2021.27, 0.3], [2021.311, 0.3], [2021.35, 0.29],
  [2021.4, 0.3], [2021.45, 0.28], [2021.49, 0.23], [2021.504, 0.25], [2021.514, 0.25], [2021.516, 1.02],
  [2021.519, 0.23], [2021.528, 0.23], [2021.552, 0.3], [2021.6, 0.32], [2021.643, 0.33], [2021.7, 0.33],
  [2021.733, 0.34], [2021.775, 0.43], [2021.793, 0.39], [2021.824, 0.37], [2021.854, 0.35], [2021.884, 0.3],
  [2021.9, 0.26], [2021.914, 0.22], [2021.932, 0.15], [2021.95, 0.24], [2021.962, 0.22], [2021.974, 0.32],
  [2022.035, 0.37], [2022.095, 0.43], [2022.155, 0.43], [2022.186, 0.43], [2022.204, 0.31], [2022.246, 0.31],
  [2022.276, 0.29], [2022.3, 0.28], [2022.336, 0.28], [2022.366, 0.27], [2022.397, 0.27], [2022.415, 0.25],
  [2022.439, 0.2], [2022.457, 0.15], [2022.487, 0.15], [2022.5, 0.08], [2022.517, 0.1], [2022.535, 0.0],
  [2022.55, 0.08], [2022.565, 0.1], [2022.58, -0.03], [2022.59, 0.0], [2022.608, 0.17], [2022.638, 0.3],
  [2022.668, 0.35], [2022.7, 0.33], [2022.75, 0.34], [2022.8, 0.33], [2022.867, 0.33],
];

// ---- Q band ratio ----
const qband: Pt[] = [
  [2015.8, 0.3], [2015.805, 0.38], [2015.81, 0.25], [2015.815, 0.35], [2015.82, 0.22], [2015.824, 0.5],
  [2015.828, 0.25], [2015.835, 0.35], [2015.84, 0.2], [2015.85, 0.3], [2015.86, 0.25], [2015.87, 0.38],
  [2015.88, 0.24], [2015.89, 0.3], [2015.893, 0.08], [2015.897, 0.3], [2015.905, 0.45], [2015.91, 0.28],
  [2015.92, 0.43], [2015.93, 0.3], [2015.941, 0.44], [2015.95, 0.32], [2015.96, 0.38], [2015.971, 0.3],
  [2015.98, 0.26], [2016.0, 0.2], [2016.01, 0.16], [2016.02, 0.13],
  ...qBlock,
  [2016.382, 0.15], [2016.4, 0.16], [2016.41, 0.15], [2016.424, 0.2], [2016.44, 0.14], [2016.46, 0.17],
  [2016.484, 0.13], [2016.5, 0.15], [2016.52, 0.13], [2016.545, 0.14], [2016.56, 0.12], [2016.575, 0.14],
  [2016.587, 0.05], [2016.6, 0.0], [2016.61, 0.07], [2016.62, 0.02], [2016.635, 0.07], [2016.65, 0.02],
  [2016.665, 0.1], [2016.68, 0.0], [2016.695, 0.1], [2016.71, 0.04], [2016.726, 0.15], [2016.74, 0.0],
  [2016.75, 0.1], [2016.76, 0.05], [2016.78, 0.2], [2016.792, 0.45], [2016.8, 0.3], [2016.81, 0.38],
  [2016.82, 0.28], [2016.846, 0.35], [2016.86, 0.3], [2016.876, 0.28], [2016.89, 0.3], [2016.906, 0.25],
  [2016.93, 0.26], [2016.967, 0.22], [2017.0, 0.23], [2017.027, 0.2], [2017.087, 0.19], [2017.148, 0.17],
  [2017.208, 0.16], [2017.238, 0.14], [2017.3, 0.16], [2017.329, 0.18], [2017.347, 0.2], [2017.359, 0.14],
  [2017.4, 0.16], [2017.437, 0.15], [2017.462, 0.13], [2017.48, 0.12], [2017.51, 0.11], [2017.54, 0.05],
  [2017.558, 0.03], [2017.576, 0.1], [2017.588, 0.0], [2017.6, 0.05], [2017.63, 0.03], [2017.673, 0.06],
  [2017.721, 0.1], [2017.751, 0.12], [2017.811, 0.12], [2017.842, 0.26], [2017.872, 0.22], [2017.884, 0.28],
  [2017.893, 0.72], [2017.902, 0.3], [2017.914, 0.7], [2017.932, 0.65], [2017.944, 0.15], [2017.956, 0.15],
  [2017.99, 0.16], [2018.05, 0.15], [2018.11, 0.17], [2018.173, 0.17], [2018.216, 0.12], [2018.234, 0.12],
  [2018.24, 0.48], [2018.25, 0.38], [2018.26, 0.47], [2018.27, 0.4], [2018.28, 0.46], [2018.29, 0.38],
  [2018.3, 0.48], [2018.31, 0.4], [2018.324, 0.45], [2018.34, 0.38], [2018.354, 0.41], [2018.385, 0.3],
  [2018.445, 0.2], [2018.566, 0.05], [2018.578, 0.0], [2018.6, -0.1], [2018.632, -0.1], [2018.638, 0.0],
  [2018.644, -0.1], [2018.7, -0.1], [2018.71, 0.0], [2018.825, 0.36], [2018.837, 0.33], [2018.86, 0.28],
  [2018.897, 0.25], [2018.927, 0.22], [2018.958, 0.18], [2018.976, 0.29], [2019.006, 0.2], [2019.048, 0.15],
  [2019.078, 0.18], [2019.121, 0.2], [2019.139, 0.31], [2019.157, 0.18], [2019.18, 0.27], [2019.2, 0.25],
  [2019.229, 0.15], [2019.247, 0.25], [2019.259, 0.3], [2019.271, 0.1], [2019.29, 0.4], [2019.302, 0.12],
  [2019.32, 0.2], [2019.338, 0.3], [2019.368, 0.1], [2019.41, 0.15], [2019.44, 0.03], [2019.458, 0.1],
  [2019.501, 0.12], [2019.561, 0.08], [2019.591, 0.1], [2019.609, 0.21], [2019.633, 0.2], [2019.651, 0.1],
  [2019.7, 0.13], [2019.718, 0.32], [2019.724, 0.12], [2019.742, 0.1], [2019.796, 0.0], [2019.85, -0.1],
  [2019.95, -0.1], [2020.008, 0.0], [2020.032, 0.1], [2020.044, 0.12], [2020.104, 0.12], [2020.225, 0.13],
  [2020.285, 0.13], [2020.303, 0.2], [2020.327, 0.32], [2020.339, 0.2], [2020.351, 0.0], [2020.357, 1.05],
  [2020.363, 0.1], [2020.376, 0.3], [2020.388, 0.05], [2020.4, 0.48], [2020.406, 0.1], [2020.418, 0.2],
  [2020.436, 0.13], [2020.466, 0.16], [2020.478, 0.2], [2020.496, 0.05], [2020.526, 0.2], [2020.557, 0.17],
  [2020.569, 0.28], [2020.587, 0.15], [2020.617, 0.15], [2020.647, 0.15], [2020.65, 0.69], [2020.659, 0.15],
  [2020.671, 0.73], [2020.683, 0.15], [2020.689, 0.7], [2020.707, 0.15], [2020.713, 0.72], [2020.725, 0.13],
  [2020.74, 0.15], [2020.768, 0.15], [2020.774, 0.58], [2020.786, 0.15], [2020.798, 0.13], [2020.804, 0.0],
  [2020.81, 0.2], [2020.828, 0.3], [2020.84, 0.05], [2020.858, 0.2], [2020.876, 0.1], [2020.888, 0.19],
  [2020.918, 0.1], [2020.948, 0.15], [2020.978, 0.1], [2021.039, 0.08], [2021.1, 0.1], [2021.13, 0.15],
  [2021.19, 0.13], [2021.208, 0.2], [2021.22, 0.26], [2021.232, 0.22], [2021.25, 0.16], [2021.311, 0.12],
  [2021.371, 0.08], [2021.431, 0.02], [2021.462, 0.04], [2021.48, 0.0], [2021.504, 0.05], [2021.514, 0.03],
  [2021.516, 1.05], [2021.519, 0.0], [2021.552, 0.0], [2021.582, 0.02], [2021.612, 0.05], [2021.649, 0.1],
  [2021.655, 0.15], [2021.673, 0.1], [2021.733, 0.15], [2021.763, 0.15], [2021.775, 0.39], [2021.793, 0.35],
  [2021.824, 0.2], [2021.854, 0.25], [2021.866, 0.3], [2021.878, 0.1], [2021.902, 0.25], [2021.914, 0.15],
  [2021.932, 0.02], [2021.944, 0.1], [2021.962, 0.0], [2021.974, 0.1], [2022.005, 0.15], [2022.035, 0.2],
  [2022.065, 0.25], [2022.095, 0.28], [2022.155, 0.31], [2022.186, 0.35], [2022.192, 0.28], [2022.204, 0.15],
  [2022.216, 0.2], [2022.234, 0.18], [2022.246, 0.12], [2022.264, 0.2], [2022.288, 0.08], [2022.306, 0.15],
  [2022.336, 0.05], [2022.366, 0.12], [2022.397, 0.08], [2022.415, 0.0], [2022.433, 0.05], [2022.445, -0.05],
  [2022.505, 0.0], [2022.517, -0.05], [2022.577, -0.05], [2022.602, 0.0], [2022.626, 0.05], [2022.65, 0.08],
  [2022.668, 0.08], [2022.698, 0.12], [2022.728, 0.13], [2022.8, 0.13], [2022.867, 0.13],
];

// ---- layout ----
const WIDTH = 1541;
const PLOT_H = 140.5;
const MT = 10;
const XAX_H = 36;
const YAX_W = 101.5;
const X_DOMAIN: [number, number] = [2014.5626, 2023.2474];

const toRows = (pts: Pt[]) => pts.map(([t, v]) => ({ t, v }));

interface Series {
  name: string;
  color: string;
  data: Pt[];
  width?: number;
  hidden?: boolean; // not listed in the legend
}

interface PanelProps {
  top: number;
  domain: [number, number];
  ticks: number[];
  decimals: number;
  title: React.ReactNode;
  titleX: number;
  showYears: boolean;
  series: Series[];
  legend?: boolean;
}

const renderLegend = (props: any) => {
  const items = (props.payload || [])
    .filter((e: any) => legendOrder.includes(e.value))
    .sort((a: any, b: any) => legendOrder.indexOf(a.value) - legendOrder.indexOf(b.value));
  return (
    <div
      style={{
        width: 125,
        height: 62,
        boxSizing: "border-box",
        border: "1px solid #d0d0d0",
        borderRadius: 4,
        background: "rgba(255,255,255,0.8)",
        padding: "1px 7px",
        fontFamily: FONT,
        fontSize: 19,
        color: "#000",
      }}
    >
      {items.map((e: any) => (
        <div key={e.value} style={{ display: "flex", alignItems: "center", height: 28 }}>
          <span
            style={{
              display: "inline-block",
              width: 40,
              height: 0,
              borderTop: `2px solid ${e.color}`,
              marginRight: 14,
            }}
          />
          <span>{e.value}</span>
        </div>
      ))}
    </div>
  );
};

function Panel(p: PanelProps) {
  const tickStyle = { fontFamily: FONT, fontSize: 18.5, fill: "#000" };
  const cy = MT + PLOT_H / 2;
  const spine = { stroke: "#222", strokeWidth: 1.3 };
  const title = () => (
    <text
      x={p.titleX}
      y={cy}
      transform={`rotate(-90 ${p.titleX} ${cy})`}
      textAnchor="middle"
      dominantBaseline="central"
      fontFamily={FONT}
      fontSize={19}
      fill="#000"
    >
      {p.title}
    </text>
  );
  return (
    <div style={{ position: "absolute", left: 0, top: p.top - MT }}>
      <LineChart width={WIDTH} height={MT + PLOT_H + XAX_H} margin={{ top: MT, right: 0, bottom: 0, left: 0 }}>
        <XAxis
          xAxisId="b"
          dataKey="t"
          type="number"
          domain={X_DOMAIN}
          allowDataOverflow
          ticks={yearTicks}
          interval={0}
          tickSize={5}
          tickMargin={8}
          height={XAX_H}
          tick={p.showYears ? tickStyle : false}
          tickLine={{ stroke: "#222", strokeWidth: 1.2 }}
          axisLine={spine}
        />
        <YAxis
          yAxisId="l"
          type="number"
          domain={p.domain}
          allowDataOverflow
          ticks={p.ticks}
          interval={0}
          tickSize={5}
          tickMargin={6.5}
          width={YAX_W}
          tick={tickStyle}
          tickLine={{ stroke: "#222", strokeWidth: 1.2 }}
          axisLine={spine}
          tickFormatter={(v: number) => v.toFixed(p.decimals)}
          label={{ content: title }}
        />
        {/* top spine */}
        <ReferenceLine xAxisId="b" yAxisId="l" y={p.domain[1]} stroke="#222" strokeWidth={1.3} ifOverflow="visible" />
        {p.series.map((s) => (
          <Line
            key={s.name}
            xAxisId="b"
            yAxisId="l"
            type="linear"
            data={toRows(s.data)}
            dataKey="v"
            name={s.name}
            stroke={s.color}
            strokeWidth={s.width ?? 2}
            strokeLinejoin="round"
            dot={false}
            activeDot={false}
            legendType={s.hidden ? "none" : "line"}
            isAnimationActive={false}
          />
        ))}
        {p.legend && (
          <Legend
            layout="vertical"
            align="center"
            verticalAlign="middle"
            content={renderLegend}
            wrapperStyle={{ top: 38 - (p.top - MT), left: 1408, width: 125, height: 62 }}
          />
        )}
      </LineChart>
    </div>
  );
}

const pocTitle = (
  <>
    POC (mg C/m
    <tspan dy={-7} fontSize={13}>3</tspan>
    <tspan dy={7}>)</tspan>
  </>
);

export default function App() {
  return (
    <div style={{ position: "relative", width: WIDTH, height: 1044, overflow: "hidden", background: "#fff" }}>
      <style>{"body{margin:0;overflow:hidden;}"}</style>
      <Panel
        top={28}
        domain={[0, 25.1]}
        ticks={chlTicks}
        decimals={0}
        title="Chlorophyll a"
        titleX={48}
        showYears={false}
        legend
        series={[
          { name: "optaa", color: BLUE, data: chlOptaa },
          { name: "optaa burst", color: BLUE, data: chlBlock, width: 3.2, hidden: true },
          { name: "flort", color: GREEN, data: chlFlort },
        ]}
      />
      <Panel
        top={196.7}
        domain={[0, 5040]}
        ticks={pocTicks}
        decimals={0}
        title={pocTitle}
        titleX={24}
        showYears={false}
        series={[{ name: "poc", color: BLUE, data: poc }]}
      />
      <Panel
        top={366}
        domain={[0, 2]}
        ticks={cdomTicks}
        decimals={0}
        title="CDOM Ratio"
        titleX={61}
        showYears={false}
        series={[
          { name: "cdom", color: BLUE, data: cdom },
          { name: "cdom burst", color: BLUE, data: cdomBlock, width: 4, hidden: true },
        ]}
      />
      <Panel
        top={535}
        domain={[0, 1]}
        ticks={ratioTicks}
        decimals={1}
        title="Carotenoid Ratio"
        titleX={43}
        showYears
        series={[
          { name: "carotenoid", color: BLUE, data: carotenoid },
          { name: "carotenoid burst", color: BLUE, data: ratioBlock, width: 4, hidden: true },
        ]}
      />
      <Panel
        top={703.3}
        domain={[0, 1]}
        ticks={ratioTicks}
        decimals={1}
        title="Phycobilin Ratio"
        titleX={43}
        showYears
        series={[
          { name: "phycobilin", color: BLUE, data: phycobilin },
          { name: "phycobilin burst", color: BLUE, data: ratioBlock, width: 4, hidden: true },
        ]}
      />
      <Panel
        top={871.7}
        domain={[0, 1]}
        ticks={ratioTicks}
        decimals={1}
        title="Q Band Ratio"
        titleX={43}
        showYears
        series={[
          { name: "qband", color: BLUE, data: qband },
          { name: "qband burst", color: BLUE, data: qBlock, width: 3.5, hidden: true },
        ]}
      />
      {/* annotations drawn over the figure */}
      <svg
        width={WIDTH}
        height={1044}
        style={{ position: "absolute", left: 0, top: 0, pointerEvents: "none" }}
      >
        <g fill="none" stroke={RED} strokeWidth={3.3}>
          <ellipse cx={343.5} cy={83} rx={122} ry={71.5} />
          <ellipse cx={563} cy={130.5} rx={91.5} ry={73} />
          <ellipse cx={1078.3} cy={105.5} rx={95.8} ry={72.3} />
        </g>
        <g fill={RED} fontFamily="'Liberation Sans', Arial, sans-serif" fontWeight="bold" fontSize={36}>
          <text x={120.5} y={71.7}>UGLY</text>
          <text x={654.5} y={98.3}>?</text>
          <text x={1192} y={98.3}>Bad</text>
        </g>
      </svg>
    </div>
  );
}
